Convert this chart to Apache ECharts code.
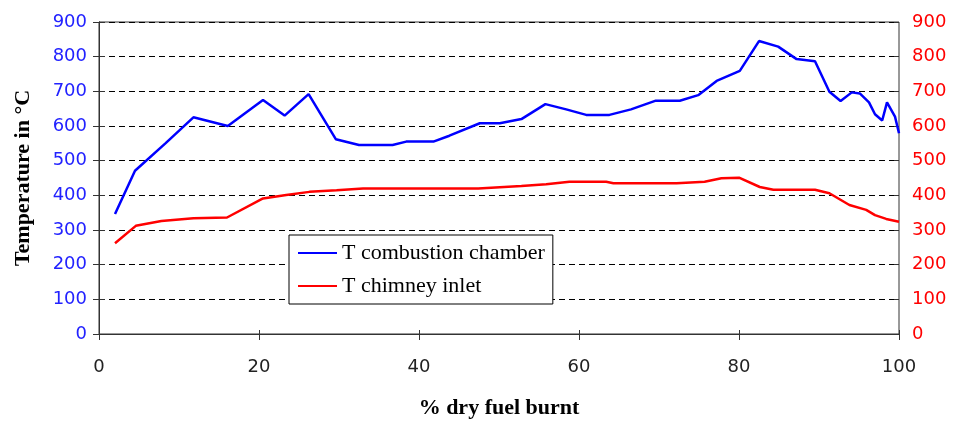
<!DOCTYPE html>
<html>
<head>
<meta charset="utf-8">
<script src="https://cdn.jsdelivr.net/npm/echarts@6/dist/echarts.min.js"></script>
<style>
    html, body { margin: 0; padding: 0; background: #fff; }
    #chart { width: 956px; height: 425px; }
</style>
</head>
<body>
<div id="chart"></div>
<script>
// 数据
var fuelChamber = [2, 4.5, 8.3, 11.8, 16.1, 20.5, 23.2, 26.2, 29.6, 32.5, 36.7, 38.4, 41.8, 43.8, 47.6, 50.1,
    52.8, 55.8, 58.4, 60.9, 63.8, 66.5, 69.6, 72.6, 74.9, 77.2, 80.1, 82.5, 84.9, 87.2, 89.5, 91.3, 92.7,
    94.1, 95.1, 96.25, 97, 97.9, 98.5, 99.5, 100];
var tempChamber = [346, 471, 550, 625, 600, 675, 630, 692, 562, 545, 545, 555, 555, 572, 608, 608,
    620, 663, 648, 632, 632, 648, 673, 673, 689, 730, 759, 845, 829, 793, 787, 699, 672,
    697, 694, 668, 634, 616, 668, 627, 579];
var fuelChimney = [2, 4.6, 7.8, 11.8, 16, 20.5, 23.4, 26.3, 29.7, 33, 47.4, 52.8, 55.9, 58.8, 63.4, 64.3,
    72.2, 75.7, 77.8, 80, 82.6, 84.3, 89.5, 91.3, 93.8, 95.9, 97, 98.4, 100];
var tempChimney = [262, 312, 326, 334, 336, 391, 401, 410, 415, 420, 420, 427, 432, 439, 439, 435,
    435, 439, 449, 451, 424, 416, 416, 406, 372, 358, 343, 332, 324];
var seriesNames = ['T combustion chamber', 'T chimney inlet'];

function pairs(xs, ys) {
    return xs.map(function (x, i) { return [x, ys[i]]; });
}

var chart = echarts.init(document.getElementById('chart'));

var tickFont = { fontFamily: 'DejaVu Sans', fontSize: 18 };
var titleFont = { fontFamily: 'Liberation Serif', fontSize: 22, fontWeight: 'bold', color: '#000' };

// 内侧刻度 (模仿原图的十字刻度)
function innerY(pos) {
    return {
        type: 'value', position: pos, min: 0, max: 900, interval: 100,
        axisLine: { show: false }, axisLabel: { show: false }, splitLine: { show: false },
        axisTick: { show: true, inside: true, length: 5, lineStyle: { color: '#333' } }
    };
}

var option = {
    animation: false,
    grid: {
        left: 99, right: 57, top: 22, bottom: 91,
        show: true, borderColor: '#333', borderWidth: 1, backgroundColor: 'transparent'
    },
    legend: {
        orient: 'vertical',
        left: 289, top: 235,
        padding: [7, 8, 7, 9],
        itemGap: 11,
        icon: 'rect',
        itemWidth: 39, itemHeight: 2,
        borderColor: '#000', borderWidth: 1,
        backgroundColor: '#fff',
        textStyle: { fontFamily: 'Liberation Serif', fontSize: 22, lineHeight: 21, color: '#000' },
        data: seriesNames
    },
    xAxis: [{
        type: 'value', min: 0, max: 100, interval: 20,
        name: '% dry fuel burnt', nameLocation: 'middle', nameGap: 63,
        nameTextStyle: titleFont,
        axisLine: { lineStyle: { color: '#333' } },
        axisTick: { length: 6, lineStyle: { color: '#333' } },
        axisLabel: Object.assign({ color: '#222', margin: 24 }, tickFont),
        splitLine: { show: false }
    }, {
        type: 'value', position: 'bottom', min: 0, max: 100, interval: 20,
        axisLine: { show: false }, axisLabel: { show: false }, splitLine: { show: false },
        axisTick: { show: true, inside: true, length: 4, lineStyle: { color: '#333' } }
    }],
    yAxis: [{
        type: 'value', position: 'left', min: 0, max: 900, interval: 100,
        name: 'Temperature in °C', nameLocation: 'middle', nameGap: 65,
        nameTextStyle: titleFont,
        axisLine: { show: true, lineStyle: { color: '#333' } },
        axisTick: { show: true, length: 6, lineStyle: { color: '#333' } },
        axisLabel: Object.assign({ color: '#2222ff', margin: 12 }, tickFont),
        splitLine: { show: true, lineStyle: { color: '#000', type: [6, 4], width: 1 } }
    }, {
        type: 'value', position: 'right', min: 0, max: 900, interval: 100,
        axisLine: { show: true, lineStyle: { color: '#333' } },
        axisTick: { show: true, length: 6, lineStyle: { color: '#333' } },
        axisLabel: Object.assign({ color: '#ff0000', margin: 13 }, tickFont),
        splitLine: { show: false }
    }, innerY('left'), innerY('right')],
    series: [{
        name: seriesNames[0],
        type: 'line',
        symbol: 'none',
        yAxisIndex: 0,
        data: pairs(fuelChamber, tempChamber),
        itemStyle: { color: '#0000ff' },
        lineStyle: { color: '#0000ff', width: 2.5 }
    }, {
        name: seriesNames[1],
        type: 'line',
        symbol: 'none',
        yAxisIndex: 1,
        data: pairs(fuelChimney, tempChimney),
        itemStyle: { color: '#ff0000' },
        lineStyle: { color: '#ff0000', width: 2.5 }
    }]
};

chart.setOption(option);
</script>
</body>
</html>
